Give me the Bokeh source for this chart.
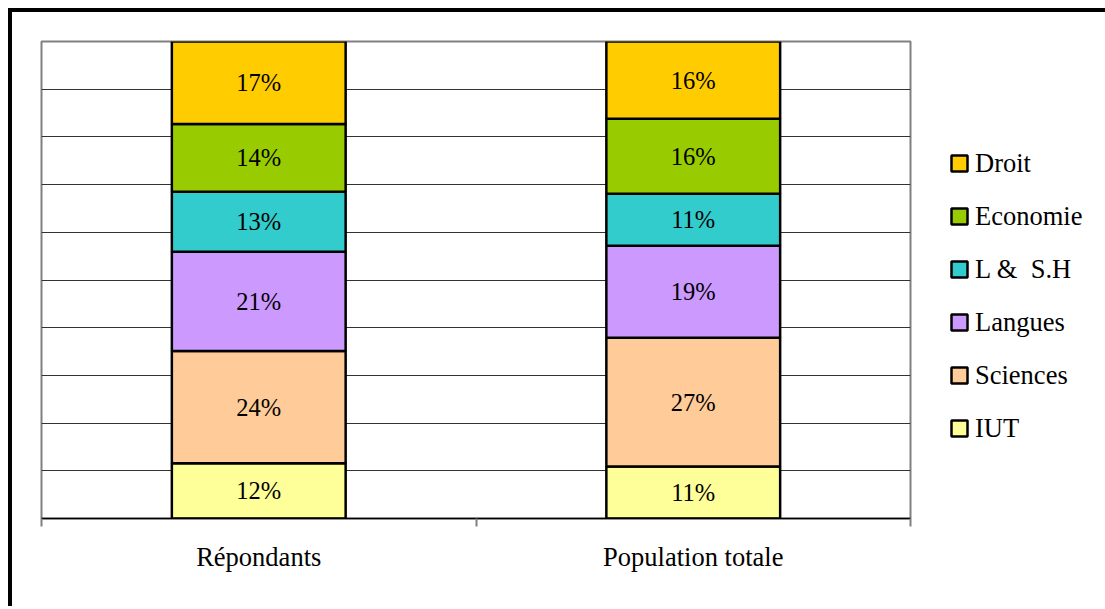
from bokeh.plotting import figure
from bokeh.models import FixedTicker, Legend, LegendItem, ColumnDataSource, Range1d
from bokeh.embed import file_html
from bokeh.resources import INLINE
from bokeh.core.properties import value

# ---- data ----
categories = ["Répondants", "Population totale"]
series = ["IUT", "Sciences", "Langues", "L &  S.H", "Economie", "Droit"]
iut = [11.6, 10.9]
sciences = [23.5, 27.0]
langues = [20.8, 19.3]
lsh = [12.6, 10.9]
economie = [14.2, 15.7]
droit = [17.3, 16.2]
colors = ["#FFFF99", "#FFCC99", "#CC99FF", "#33CCCC", "#99CC00", "#FFCC00"]
y_ticks = list(range(0, 101, 10))

values = [iut, sciences, langues, lsh, economie, droit]
n = len(categories)
xs = [2 * i + 1 for i in range(n)]
bounds = [2 * i for i in range(n + 1)]

FONT = "Liberation Serif"

p = figure(frame_width=869, frame_height=477,
           x_range=Range1d(0, 2 * n), y_range=Range1d(0, 100),
           output_backend="svg", toolbar_location=None,
           min_border_left=29, min_border_top=29,
           min_border_right=195, min_border_bottom=88)
p.styles = {"margin-left": "8px", "margin-top": "8px",
            "border-top": "4px solid black", "border-left": "4px solid black"}
p.background_fill_color = "white"
p.border_fill_color = "white"
p.outline_line_color = "#808080"
p.outline_line_width = 2

bottom = [0.0] * n
renderers = []
for name, vals, col in zip(series, values, colors):
    top = [b + v for b, v in zip(bottom, vals)]
    src = ColumnDataSource(dict(
        x=xs, bottom=bottom, top=top,
        mid=[(b + t) / 2 for b, t in zip(bottom, top)],
        label=[f"{int(v + 0.5)}%" for v in vals]))
    r = p.vbar(x="x", bottom="bottom", top="top", width=0.8, source=src,
               fill_color=col, line_color="black", line_width=2.5)
    p.text(x="x", y="mid", text="label", source=src,
           text_align="center", text_baseline="middle",
           text_font=value(FONT), text_font_size="24.5px", text_color="black")
    renderers.append(r)
    bottom = top

# axes / grid
p.yaxis.visible = False
p.xgrid.visible = False
p.ygrid.ticker = FixedTicker(ticks=y_ticks)
p.ygrid.grid_line_color = "#333333"
p.ygrid.grid_line_width = 1

p.xaxis.ticker = FixedTicker(ticks=xs, minor_ticks=bounds)
p.xaxis.major_label_overrides = {x: c for x, c in zip(xs, categories)}
p.xaxis.axis_line_color = "black"
p.xaxis.axis_line_width = 1.5
p.xaxis.major_tick_in = 0
p.xaxis.major_tick_out = 0
p.xaxis.minor_tick_in = 0
p.xaxis.minor_tick_out = 8
p.xaxis.minor_tick_line_color = "#808080"
p.xaxis.minor_tick_line_width = 2
p.xaxis.major_label_text_font = FONT
p.xaxis.major_label_text_font_size = "26.5px"
p.xaxis.major_label_text_color = "black"
p.xaxis.major_label_standoff = 15

legend = Legend(
    items=[LegendItem(label=s, renderers=[r]) for s, r in reversed(list(zip(series, renderers)))],
    location="center_left", orientation="vertical",
    title="\u00a0", title_text_font_size="18px", title_standoff=11,
    glyph_width=20, glyph_height=20, label_standoff=6, spacing=22,
    padding=0, margin=39, border_line_color=None, background_fill_alpha=0,
    label_text_font=FONT, label_text_font_size="26.5px", label_text_color="black")
p.add_layout(legend, "right")

open("out.html", "w").write(file_html(p, INLINE))
